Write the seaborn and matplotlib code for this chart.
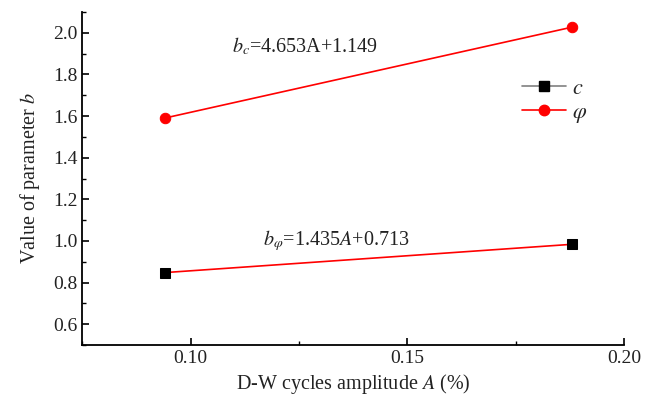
import matplotlib
matplotlib.use("Agg")
import matplotlib.pyplot as plt
import seaborn as sns
import pandas as pd
from matplotlib.lines import Line2D
from matplotlib.ticker import MultipleLocator

amplitude = [0.094, 0.188]
b_c = [0.848, 0.984]
b_phi = [1.590, 2.027]

sns.set_theme(style="ticks")
plt.rcParams['font.family'] = ['Liberation Serif', 'DejaVu Serif']
plt.rcParams['mathtext.fontset'] = 'stix'

df = pd.DataFrame({
    "A": amplitude * 2,
    "b": b_c + b_phi,
    "param": ["c"] * 2 + ["phi"] * 2,
})

fig, ax = plt.subplots(figsize=(6.57, 3.98), dpi=100)
fig.subplots_adjust(left=0.125, right=0.95, top=0.97, bottom=0.133)

sns.lineplot(data=df[df.param == "c"], x="A", y="b", ax=ax, color="red", lw=1.2,
             marker="s", markersize=6.5, markerfacecolor="black", markeredgecolor="black",
             legend=False)
sns.lineplot(data=df[df.param == "phi"], x="A", y="b", ax=ax, color="red", lw=1.2,
             marker="o", markersize=7.5, markerfacecolor="red", markeredgecolor="red",
             legend=False)

ax.set_xlim(0.075, 0.20)
ax.set_ylim(0.5, 2.1)
ax.xaxis.set_minor_locator(MultipleLocator(0.025))
ax.yaxis.set_minor_locator(MultipleLocator(0.1))
yt = [0.6, 0.8, 1.0, 1.2, 1.4, 1.6, 1.8, 2.0]
ax.set_yticks(yt)
ax.set_yticklabels([f"{v:.1f}" for v in yt])
ax.set_xticks([0.10, 0.15, 0.20])
ax.set_xticklabels(["0.10", "0.15", "0.20"])
ax.tick_params(axis="both", which="major", direction="in", length=5, width=1.2,
               labelsize=14, colors="black", labelcolor="#222222")
ax.tick_params(axis="both", which="minor", direction="in", length=3, width=1.0, colors="black")
for side in ["top", "right"]:
    ax.spines[side].set_visible(False)
for side in ["left", "bottom"]:
    ax.spines[side].set_color("black")
    ax.spines[side].set_linewidth(1.3)

ax.set_xlabel(r"D-W cycles amplitude $A$ (%)", fontsize=14.5, color="#222222", labelpad=4)
ax.set_ylabel(r"Value of parameter $b$", fontsize=14.5, color="#222222", labelpad=8)

ax.text(0.1096, 1.935, r"$b_c$=4.653A+1.149", fontsize=14.5, va="center", ha="left", color="#222222")
ax.text(0.1167, 1.0, r"$b_\varphi$=1.435$A$+0.713", fontsize=14.5, va="center", ha="left", color="#222222")

handles = [
    Line2D([0], [0], color="gray", lw=1.2, marker="s", markersize=6.5,
           markerfacecolor="black", markeredgecolor="black"),
    Line2D([0], [0], color="red", lw=1.2, marker="o", markersize=7.5,
           markerfacecolor="red", markeredgecolor="red"),
]
ax.legend(handles, [r"$c$", r"$\varphi$"], loc="upper left", bbox_to_anchor=(0.775, 0.86),
          frameon=False, fontsize=16, handlelength=1.95, handletextpad=0.3, labelspacing=0.15)

fig.savefig("out.png", dpi=100)
